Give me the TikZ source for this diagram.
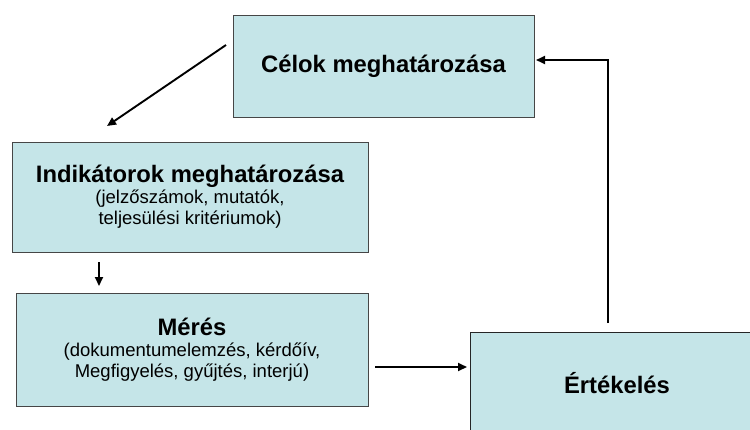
\documentclass[tikz,border=0pt]{standalone}
\usepackage{fontspec}
\setmainfont{Liberation Sans}
\usetikzlibrary{arrows.meta}
\definecolor{boxfill}{RGB}{197,229,232}
\definecolor{boxline}{RGB}{70,70,70}
\tikzset{
  box/.style={draw=boxline, line width=1pt, fill=boxfill, align=center, inner sep=0pt,
    font=\fontsize{18.5}{21}\selectfont},
  arr/.style={line width=1.9pt, -{Triangle[length=9pt,width=8pt]}},
}
\newcommand{\ttl}[1]{{\fontsize{23.8}{21}\selectfont\bfseries #1}}
\begin{document}
\begin{tikzpicture}[x=1pt,y=-1pt]
\useasboundingbox (0,0) rectangle (750,429);
\node[box, minimum width=301pt, minimum height=102pt] (b1) at (383.5,66) {\ttl{Célok meghatározása}};
\node[box, minimum width=356pt, minimum height=110pt] (b2) at (190,197)
  {\ttl{Indikátorok meghatározása}\\(jelzőszámok, mutatók,\\teljesülési kritériumok)};
\node[box, minimum width=352pt, minimum height=113pt] (b3) at (192,349.5)
  {\ttl{Mérés}\\(dokumentumelemzés, kérdőív,\\Megfigyelés, gyűjtés, interjú)};
\node[box, draw=black!85, minimum width=294pt, minimum height=102pt] (b4) at (617,383) {\ttl{Értékelés}};
\coordinate (d1) at (226,45);
\coordinate (d2) at (107,126);
\coordinate (v1) at (99,262);
\coordinate (v2) at (99,286);
\coordinate (h1) at (375,367);
\coordinate (h2) at (467,367);
\coordinate (f1) at (608,323);
\coordinate (f2) at (608,60);
\coordinate (f3) at (536,60);
\draw[arr] (d1) -- (d2);
\draw[arr] (v1) -- (v2);
\draw[arr] (h1) -- (h2);
\draw[arr] (f1) -- (f2) -- (f3);
\end{tikzpicture}
\end{document}
